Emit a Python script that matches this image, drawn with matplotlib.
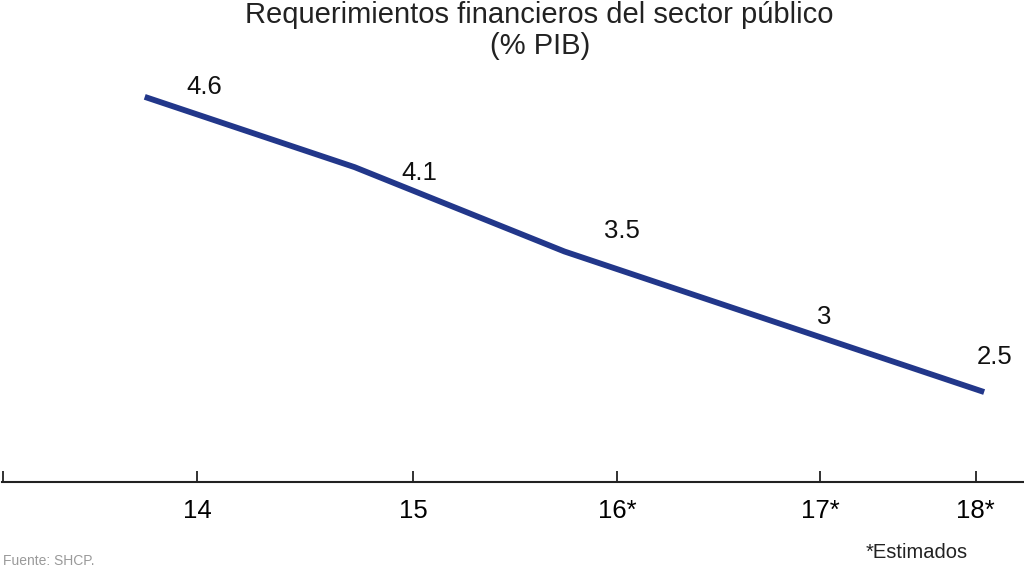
import matplotlib.pyplot as plt
import numpy as np

YEARS = ["14", "15", "16*", "17*", "18*"]
RFSP_PCT_PIB = [4.6, 4.1, 3.5, 3.0, 2.5]
VALUE_LABELS = ["4.6", "4.1", "3.5", "3", "2.5"]

LINE_COLOR = "#22378a"
FONT = ["Liberation Sans", "DejaVu Sans"]


def main() -> None:
    plt.rcParams["font.family"] = FONT

    fig = plt.figure(figsize=(10.24, 5.68), dpi=100)
    # axes spans full width, spine sits at the bottom edge
    ax = fig.add_axes([0.002, 1 - 482 / 568, 0.998, (482 - 80) / 568])

    x = np.arange(len(RFSP_PCT_PIB))
    ax.plot(x, RFSP_PCT_PIB, color=LINE_COLOR, linewidth=4.2,
            solid_capstyle="butt", solid_joinstyle="round")

    # tick marks are not aligned with the line vertices in the original
    tick_pos = [0.25, 1.28, 2.25, 3.22, 3.96]
    ax.set_xlim(-0.68, 4.19)
    ax.set_ylim(1.86, 4.72)
    ax.set_xticks([-0.675] + tick_pos)
    ax.set_xticklabels([""] + YEARS, fontsize=18.5)
    ax.tick_params(axis="x", direction="in", length=8, width=1.3,
                   color="#222222", pad=12)
    ax.set_yticks([])

    for side in ("top", "right", "left"):
        ax.spines[side].set_visible(False)
    ax.spines["bottom"].set_linewidth(1.5)
    ax.spines["bottom"].set_color("#222222")

    # label offsets in pixels from each vertex
    offsets = [(60, 10), (65, -6), (58, 20), (50, 5), (10, 35)]
    for xi, yi, lab, (dx, dy) in zip(x, RFSP_PCT_PIB, VALUE_LABELS, offsets):
        ax.annotate(lab, (xi, yi), xytext=(dx * 0.72, dy * 0.72),
                    textcoords="offset points", ha="center", va="center",
                    fontsize=18.5, color="#111111")

    fig.text(0.527, 1 - 15 / 568, "Requerimientos financieros del sector público",
             ha="center", va="center", fontsize=21, color="#222222")
    fig.text(0.527, 1 - 46 / 568, "(% PIB)",
             ha="center", va="center", fontsize=21, color="#222222")
    fig.text(917 / 1024, 1 - 552 / 568, "*Estimados",
             ha="center", va="center", fontsize=14.5, color="#222222")
    fig.text(3 / 1024, 1 - 561 / 568, "Fuente: SHCP.",
             ha="left", va="center", fontsize=10, color="#9a9a9a")

    fig.savefig("out.png", dpi=100)
    plt.close(fig)


if __name__ == "__main__":
    main()
